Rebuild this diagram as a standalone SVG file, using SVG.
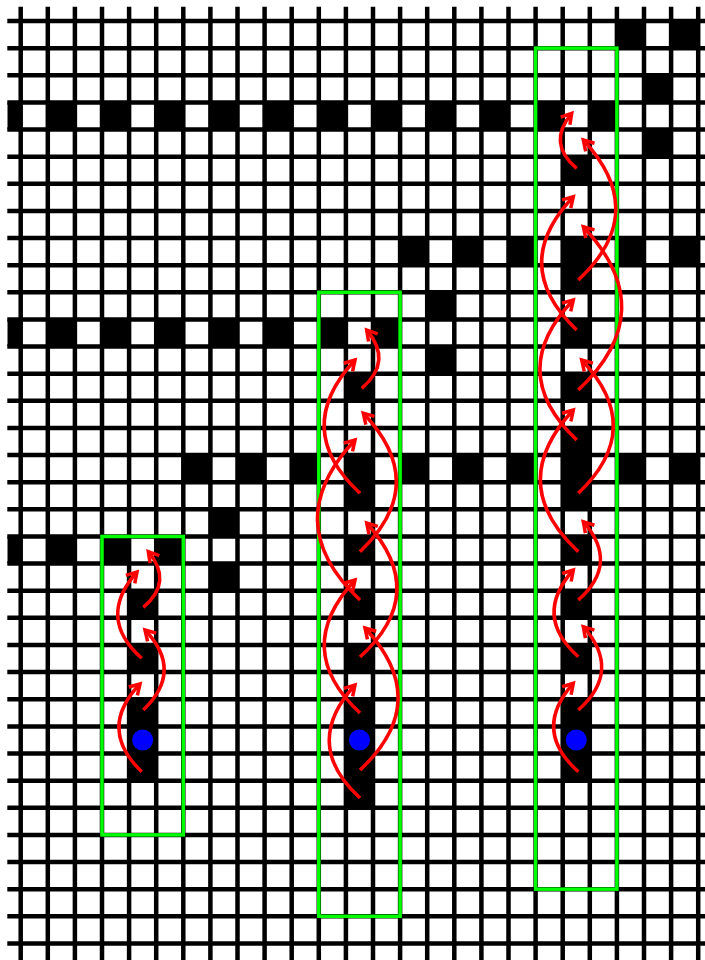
<svg xmlns="http://www.w3.org/2000/svg" width="705" height="960" viewBox="0 0 705 960">
<style>
.blk{fill:#000}
.grid{stroke:#000;stroke-width:4.5;fill:none}
.box{fill:none;stroke:#00ff00;stroke-width:3.5}
.dot{fill:#0000ff}
.arc{fill:none;stroke:#ff0000;stroke-width:3.5;marker-end:url(#ah)}
</style>
<defs>
<clipPath id="ax"><rect x="7.3" y="6.7" width="697.7" height="953.3"/></clipPath>
<marker id="ah" markerUnits="userSpaceOnUse" markerWidth="30" markerHeight="30" viewBox="-15 -15 30 30" refX="0" refY="0" orient="auto" overflow="visible">
<path d="M-10,-6 L0,0 L-10,6" fill="none" stroke="#ff0000" stroke-width="3.5" stroke-linejoin="miter"/>
</marker>
</defs>
<rect width="705" height="960" fill="#fff"/>
<g id="board" clip-path="url(#ax)">
<g id="cells">
<rect class="blk" x="616.9" y="21" width="27.1" height="27.13"/>
<rect class="blk" x="671.1" y="21" width="27.1" height="27.13"/>
<rect class="blk" x="644" y="75.26" width="27.1" height="27.13"/>
<rect class="blk" x="7.3" y="102.39" width="13.4" height="27.13"/>
<rect class="blk" x="47.8" y="102.39" width="27.1" height="27.13"/>
<rect class="blk" x="102" y="102.39" width="27.1" height="27.13"/>
<rect class="blk" x="156.2" y="102.39" width="27.1" height="27.13"/>
<rect class="blk" x="210.4" y="102.39" width="27.1" height="27.13"/>
<rect class="blk" x="264.6" y="102.39" width="27.1" height="27.13"/>
<rect class="blk" x="318.8" y="102.39" width="27.1" height="27.13"/>
<rect class="blk" x="373" y="102.39" width="27.1" height="27.13"/>
<rect class="blk" x="427.2" y="102.39" width="27.1" height="27.13"/>
<rect class="blk" x="481.4" y="102.39" width="27.1" height="27.13"/>
<rect class="blk" x="535.6" y="102.39" width="27.1" height="27.13"/>
<rect class="blk" x="589.8" y="102.39" width="27.1" height="27.13"/>
<rect class="blk" x="644" y="129.52" width="27.1" height="27.13"/>
<rect class="blk" x="562.7" y="156.65" width="27.1" height="27.13"/>
<rect class="blk" x="400.1" y="238.04" width="27.1" height="27.13"/>
<rect class="blk" x="454.3" y="238.04" width="27.1" height="27.13"/>
<rect class="blk" x="508.5" y="238.04" width="27.1" height="27.13"/>
<rect class="blk" x="562.7" y="238.04" width="27.1" height="54.26"/>
<rect class="blk" x="616.9" y="238.04" width="27.1" height="27.13"/>
<rect class="blk" x="671.1" y="238.04" width="27.1" height="27.13"/>
<rect class="blk" x="427.2" y="292.3" width="27.1" height="27.13"/>
<rect class="blk" x="7.3" y="319.43" width="13.4" height="27.13"/>
<rect class="blk" x="47.8" y="319.43" width="27.1" height="27.13"/>
<rect class="blk" x="102" y="319.43" width="27.1" height="27.13"/>
<rect class="blk" x="156.2" y="319.43" width="27.1" height="27.13"/>
<rect class="blk" x="210.4" y="319.43" width="27.1" height="27.13"/>
<rect class="blk" x="264.6" y="319.43" width="27.1" height="27.13"/>
<rect class="blk" x="318.8" y="319.43" width="27.1" height="27.13"/>
<rect class="blk" x="373" y="319.43" width="27.1" height="27.13"/>
<rect class="blk" x="562.7" y="319.43" width="27.1" height="27.13"/>
<rect class="blk" x="427.2" y="346.56" width="27.1" height="27.13"/>
<rect class="blk" x="345.9" y="373.69" width="27.1" height="27.13"/>
<rect class="blk" x="562.7" y="373.69" width="27.1" height="27.13"/>
<rect class="blk" x="562.7" y="427.95" width="27.1" height="81.39"/>
<rect class="blk" x="183.3" y="455.08" width="27.1" height="27.13"/>
<rect class="blk" x="237.5" y="455.08" width="27.1" height="27.13"/>
<rect class="blk" x="291.7" y="455.08" width="27.1" height="27.13"/>
<rect class="blk" x="345.9" y="455.08" width="27.1" height="54.26"/>
<rect class="blk" x="400.1" y="455.08" width="27.1" height="27.13"/>
<rect class="blk" x="454.3" y="455.08" width="27.1" height="27.13"/>
<rect class="blk" x="508.5" y="455.08" width="27.1" height="27.13"/>
<rect class="blk" x="616.9" y="455.08" width="27.1" height="27.13"/>
<rect class="blk" x="671.1" y="455.08" width="27.1" height="27.13"/>
<rect class="blk" x="210.4" y="509.34" width="27.1" height="27.13"/>
<rect class="blk" x="7.3" y="536.47" width="13.4" height="27.13"/>
<rect class="blk" x="47.8" y="536.47" width="27.1" height="27.13"/>
<rect class="blk" x="102" y="536.47" width="27.1" height="27.13"/>
<rect class="blk" x="156.2" y="536.47" width="27.1" height="27.13"/>
<rect class="blk" x="345.9" y="536.47" width="27.1" height="27.13"/>
<rect class="blk" x="562.7" y="536.47" width="27.1" height="27.13"/>
<rect class="blk" x="210.4" y="563.6" width="27.1" height="27.13"/>
<rect class="blk" x="129.1" y="590.73" width="27.1" height="27.13"/>
<rect class="blk" x="345.9" y="590.73" width="27.1" height="27.13"/>
<rect class="blk" x="562.7" y="590.73" width="27.1" height="27.13"/>
<rect class="blk" x="129.1" y="644.99" width="27.1" height="27.13"/>
<rect class="blk" x="345.9" y="644.99" width="27.1" height="27.13"/>
<rect class="blk" x="562.7" y="644.99" width="27.1" height="27.13"/>
<rect class="blk" x="129.1" y="699.25" width="27.1" height="81.39"/>
<rect class="blk" x="345.9" y="699.25" width="27.1" height="108.52"/>
<rect class="blk" x="562.7" y="699.25" width="27.1" height="81.39"/>
</g>
<path id="gridlines" class="grid" d="M20.7,0V960M47.8,0V960M74.9,0V960M102,0V960M129.1,0V960M156.2,0V960M183.3,0V960M210.4,0V960M237.5,0V960M264.6,0V960M291.7,0V960M318.8,0V960M345.9,0V960M373,0V960M400.1,0V960M427.2,0V960M454.3,0V960M481.4,0V960M508.5,0V960M535.6,0V960M562.7,0V960M589.8,0V960M616.9,0V960M644,0V960M671.1,0V960M698.2,0V960M0,21H705M0,48.13H705M0,75.26H705M0,102.39H705M0,129.52H705M0,156.65H705M0,183.78H705M0,210.91H705M0,238.04H705M0,265.17H705M0,292.3H705M0,319.43H705M0,346.56H705M0,373.69H705M0,400.82H705M0,427.95H705M0,455.08H705M0,482.21H705M0,509.34H705M0,536.47H705M0,563.6H705M0,590.73H705M0,617.86H705M0,644.99H705M0,672.12H705M0,699.25H705M0,726.38H705M0,753.51H705M0,780.64H705M0,807.77H705M0,834.9H705M0,862.03H705M0,889.16H705M0,916.29H705M0,943.42H705"/>
</g>
<g id="window-left"><rect class="box" x="102" y="536.47" width="81.3" height="298.43"/></g>
<g id="window-middle"><rect class="box" x="318.8" y="292.3" width="81.3" height="623.99"/></g>
<g id="window-right"><rect class="box" x="535.6" y="48.13" width="81.3" height="841.03"/></g>
<g id="piece-left"><circle class="dot" cx="142.65" cy="740" r="10.5"/></g>
<g id="piece-middle"><circle class="dot" cx="359.45" cy="740" r="10.5"/></g>
<g id="piece-right"><circle class="dot" cx="576.25" cy="740" r="10.5"/></g>
<g id="connectors">
<path class="arc" d="M141.7,771.7 Q97,728.7 140,684"/>
<path class="arc" d="M143.3,710 Q184.15,670.85 145,630"/>
<path class="arc" d="M141.7,658.3 Q96.2,617.5 137,572"/>
<path class="arc" d="M143.3,607.3 Q173.6,582 148.3,551.7"/>
<path class="arc" d="M360,798 Q301,744 355,685"/>
<path class="arc" d="M360,770 Q433.5,701.5 365,628"/>
<path class="arc" d="M360,713 Q291,649 355,580"/>
<path class="arc" d="M360,657 Q430.35,593.35 366.7,523"/>
<path class="arc" d="M360,600 Q277.5,522.5 355,440"/>
<path class="arc" d="M360,551.7 Q430.85,484.15 363.3,413.3"/>
<path class="arc" d="M360,493.3 Q290.85,429.15 355,360"/>
<path class="arc" d="M361.7,388.3 Q393.35,361.65 366.7,330"/>
<path class="arc" d="M578.3,771.7 Q531.6,730 573.3,683.3"/>
<path class="arc" d="M578.3,710 Q622.45,670.85 583.3,626.7"/>
<path class="arc" d="M578.3,656.7 Q532.45,615.85 573.3,570"/>
<path class="arc" d="M578.3,600 Q619.95,563.35 583.3,521.7"/>
<path class="arc" d="M578.3,551.7 Q504.95,483.35 573.3,410"/>
<path class="arc" d="M578.3,493.3 Q646.65,428.35 581.7,360"/>
<path class="arc" d="M576.7,440 Q505,371.7 573.3,300"/>
<path class="arc" d="M578.3,390 Q662.45,310.85 583.3,226.7"/>
<path class="arc" d="M576.7,330 Q508.35,265.05 573.3,196.7"/>
<path class="arc" d="M578.3,280 Q650.8,212.5 583.3,140"/>
<path class="arc" d="M576.7,168.3 Q546.7,143.3 571.7,113.3"/>
</g>
</svg>
